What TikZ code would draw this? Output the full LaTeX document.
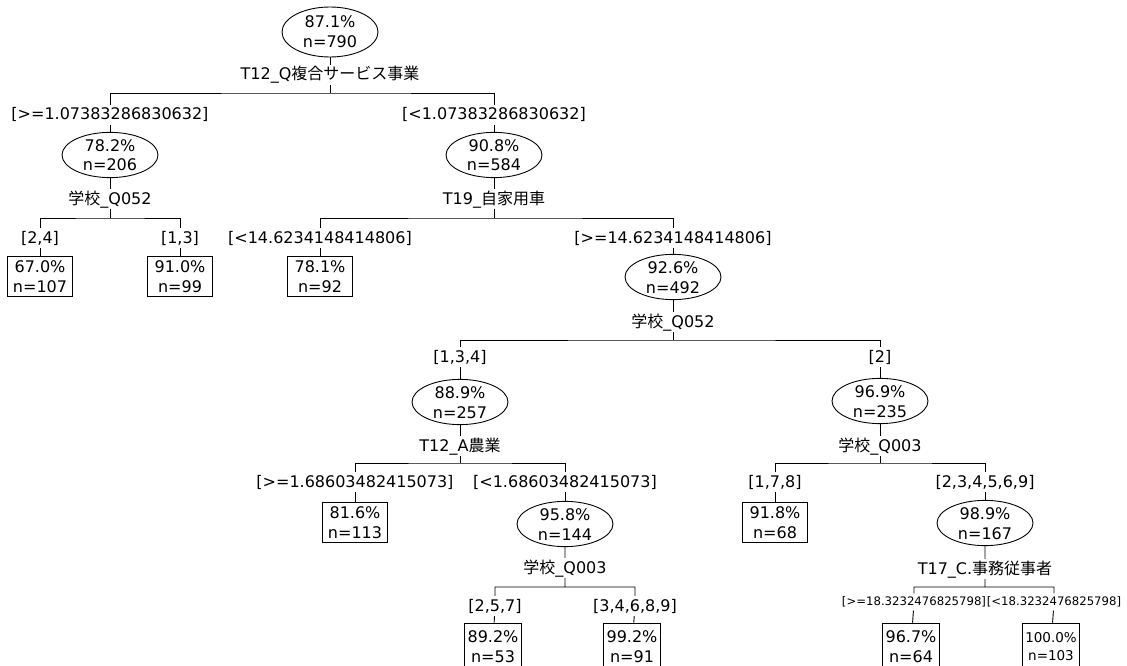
\documentclass[tikz,border=0pt]{standalone}
\usepackage{fontspec}
\setmainfont{DejaVu Sans}
\newfontfamily\jp{Noto Sans CJK JP}[Scale=1.0]
\usetikzlibrary{shapes.geometric}
\tikzset{
  basefont/.style={font=\fontsize{16}{20}\selectfont},
  inner/.style={ellipse, draw, line width=0.9pt, minimum width=96pt, minimum height=44pt, inner sep=0pt, align=center, text height=32pt, text depth=0pt, basefont},
  leaf/.style={rectangle, draw, line width=0.9pt, minimum width=65pt, minimum height=40pt, inner sep=0pt, align=center, text height=32pt, text depth=0pt, basefont},
  leafb/.style={leaf, minimum width=57pt, minimum height=46pt},
  lab/.style={inner sep=2pt, text height=13pt, text depth=3pt, basefont},
  slab/.style={inner sep=2pt, text height=10pt, text depth=3pt, font=\fontsize{11.7}{14}\selectfont},
  link/.style={draw, line width=0.9pt}
}
\begin{document}
\begin{tikzpicture}[x=1pt, y=-1pt]
\useasboundingbox (0,0) rectangle (1127,666);
\clip (0,0) rectangle (1127,666);
\fill[white] (0,0) rectangle (1127,666);
% level 0
\node[inner, minimum height=50pt] (n1) at (330,32) {87.1\%\\n=790};
\node[lab] (s1) at (330,75) {T12\_Q{\jp 複合サービス事業}};
\coordinate (b1) at (330,93);
\node[lab] (e2) at (110,115) {[>=1.07383286830632]};
\node[lab] (e3) at (494,115) {[<1.07383286830632]};
\node[inner] (n2) at (110,155) {78.2\%\\n=206};
\node[inner] (n3) at (494,155) {90.8\%\\n=584};
% left subtree
\node[lab] (s2) at (110,199) {{\jp 学校}\_Q052};
\coordinate (b2) at (110,218);
\node[lab] (e4) at (40,238) {[2,4]};
\node[lab] (e5) at (180,238) {[1,3]};
\node[leaf] (n4) at (40,276) {67.0\%\\n=107};
\node[leaf] (n5) at (180,276) {91.0\%\\n=99};
% right subtree
\node[lab] (s3) at (494,199) {T19\_{\jp 自家用車}};
\coordinate (b3) at (494,218);
\node[lab] (e6) at (320,238) {[<14.6234148414806]};
\node[lab] (e7) at (673,238) {[>=14.6234148414806]};
\node[leaf] (n6) at (320,276) {78.1\%\\n=92};
\node[inner] (n7) at (673,277) {92.6\%\\n=492};
\node[lab] (s4) at (673,322) {{\jp 学校}\_Q052};
\coordinate (b4) at (673,340);
\node[lab] (e8) at (460,357) {[1,3,4]};
\node[lab] (e9) at (880,357) {[2]};
\node[inner] (n8) at (460,402) {88.9\%\\n=257};
\node[inner] (n9) at (880,401) {96.9\%\\n=235};
\node[lab] (s5) at (460,446) {T12\_A{\jp 農業}};
\coordinate (b5) at (460,463);
\node[lab] (e10) at (355,482) {[>=1.68603482415073]};
\node[lab] (e11) at (565,482) {[<1.68603482415073]};
\node[leaf] (n10) at (355,522) {81.6\%\\n=113};
\node[inner] (n11) at (565,524) {95.8\%\\n=144};
\node[lab] (s6) at (565,568) {{\jp 学校}\_Q003};
\coordinate (b6) at (565,587);
\node[lab] (e12) at (495,606) {[2,5,7]};
\node[lab] (e13) at (635,606) {[3,4,6,8,9]};
\node[leafb] (n12) at (493,646) {89.2\%\\n=53};
\node[leafb] (n13) at (632,646) {99.2\%\\n=91};
\node[lab] (s7) at (880,446) {{\jp 学校}\_Q003};
\coordinate (b7) at (880,463);
\node[lab] (e14) at (775,482) {[1,7,8]};
\node[lab] (e15) at (985,482) {[2,3,4,5,6,9]};
\node[leaf] (n14) at (775,522) {91.8\%\\n=68};
\node[inner] (n15) at (985,523) {98.9\%\\n=167};
\node[lab] (s8) at (985,569) {T17\_C.{\jp 事務従事者}};
\coordinate (b8) at (985,587);
\node[slab] (e16) at (914,602) {[>=18.3232476825798]};
\node[slab] (e17) at (1054,602) {[<18.3232476825798]};
\node[leafb] (n16) at (911,646) {96.7\%\\n=64};
\node[leafb, font=\fontsize{13.5}{18}\selectfont, text height=28pt] (n17) at (1051,646) {100.0\%\\n=103};
% connectors
\path[link] (n1) -- (s1) (s1) -- (b1) (e2) |- (b1) -| (e3) (e2) -- (n2) (e3) -- (n3);
\path[link] (n2) -- (s2) (s2) -- (b2) (e4) |- (b2) -| (e5) (e4) -- (n4) (e5) -- (n5);
\path[link] (n3) -- (s3) (s3) -- (b3) (e6) |- (b3) -| (e7) (e6) -- (n6) (e7) -- (n7);
\path[link] (n7) -- (s4) (s4) -- (b4) (e8) |- (b4) -| (e9) (e8) -- (n8) (e9) -- (n9);
\path[link] (n8) -- (s5) (s5) -- (b5) (e10) |- (b5) -| (e11) (e10) -- (n10) (e11) -- (n11);
\path[link] (n11) -- (s6) (s6) -- (b6) (e12) |- (b6) -| (e13) (e12) -- (n12) (e13) -- (n13);
\path[link] (n9) -- (s7) (s7) -- (b7) (e14) |- (b7) -| (e15) (e14) -- (n14) (e15) -- (n15);
\path[link] (n15) -- (s8) (s8) -- (b8) (e16) |- (b8) -| (e17) (e16) -- (n16) (e17) -- (n17);
\end{tikzpicture}
\end{document}
